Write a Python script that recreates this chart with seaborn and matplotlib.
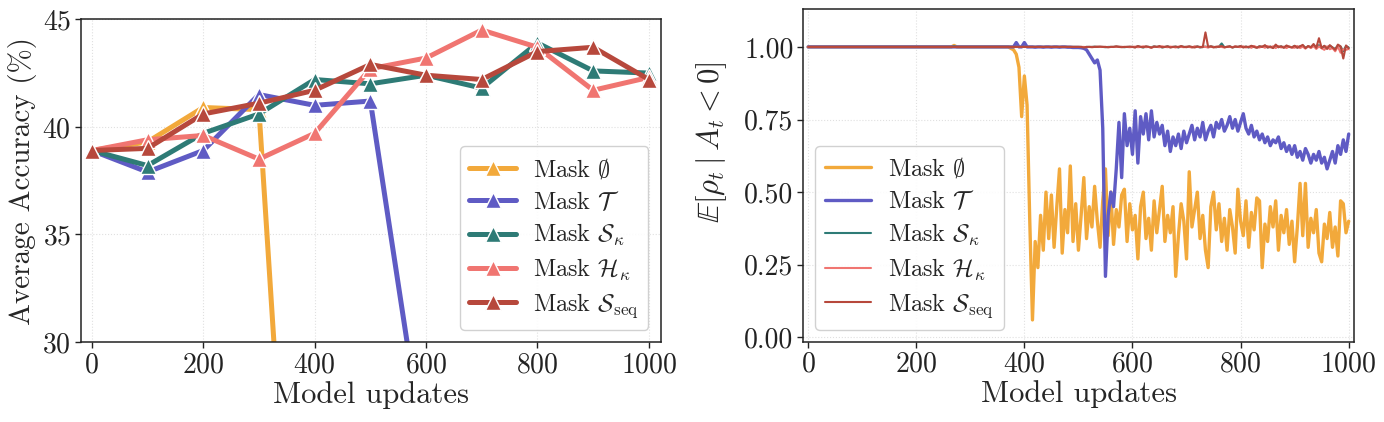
import numpy as np
import pandas as pd
import matplotlib
matplotlib.use("Agg")
import matplotlib.pyplot as plt
import seaborn as sns

# ---------------- data ----------------
series_names = [r"Mask $\emptyset$", r"Mask $\mathcal{T}$", r"Mask $\mathcal{S}_\kappa$",
                r"Mask $\mathcal{H}_\kappa$", r"Mask $\mathcal{S}_{\mathrm{seq}}$"]
colors = ["#F2A93B", "#5F5BC4", "#2E7B76", "#F07571", "#B7483C"]

# Left: average accuracy every 100 model updates
acc_updates = [0, 100, 200, 300, 400, 500, 600, 700, 800, 900, 1000]
acc_empty = [38.9, 39.3, 40.9, 40.8, 0.6, 0.5, 0.5, 0.5, 0.5, 0.5, 0.5]
acc_T = [38.9, 37.9, 38.9, 41.5, 41.0, 41.2, 24.2, 20.0, 18.0, 17.0, 16.0]
acc_Sk = [38.9, 38.2, 39.7, 40.6, 42.2, 42.0, 42.4, 41.8, 43.9, 42.6, 42.5]
acc_Hk = [38.9, 39.4, 39.6, 38.5, 39.7, 42.7, 43.2, 44.5, 43.7, 41.7, 42.3]
acc_Sseq = [38.9, 39.0, 40.6, 41.1, 41.7, 42.9, 42.4, 42.2, 43.5, 43.7, 42.2]

# Right: E[rho_t | A_t < 0], sampled every 5 model updates (0..1000)
ratio_updates = list(range(0, 1001, 5))
ratio_empty = [
    1.0, 1.0, 1.0, 1.0, 1.0, 1.0, 1.0, 1.0, 1.0, 1.0, 1.0, 1.0, 1.0, 1.0, 1.0, 1.0, 1.0, 1.0, 1.0, 1.0,
    1.0, 1.0, 1.0, 1.0, 1.0, 1.0, 1.0, 1.0, 1.0, 1.0, 1.0, 1.0, 1.0, 1.0, 1.0, 1.0, 1.0, 1.0, 1.0, 1.0,
    1.0, 1.0, 1.0, 1.0, 1.0, 1.0, 1.0, 1.0, 1.0, 1.0, 1.0, 1.0, 1.0, 1.0, 1.005, 1.0, 1.0, 1.0, 1.0, 1.0,
    1.0, 1.0, 1.0, 1.0, 1.0, 1.0, 1.0, 1.0, 1.0, 1.0, 1.0, 1.0, 1.0, 1.0, 1.0, 0.995, 0.99, 0.975, 0.93, 0.76,
    0.90, 0.80, 0.40, 0.06, 0.33, 0.24, 0.42, 0.30, 0.50, 0.34, 0.49, 0.31, 0.45, 0.58, 0.29, 0.44, 0.36, 0.59, 0.33, 0.46,
    0.30, 0.42, 0.55, 0.34, 0.45, 0.38, 0.52, 0.40, 0.31, 0.47, 0.58, 0.35, 0.50, 0.32, 0.44, 0.38, 0.49, 0.51, 0.33, 0.46,
    0.37, 0.42, 0.27, 0.45, 0.50, 0.34, 0.41, 0.30, 0.47, 0.36, 0.44, 0.52, 0.33, 0.42, 0.36, 0.45, 0.21, 0.35, 0.46, 0.40,
    0.27, 0.57, 0.38, 0.44, 0.50, 0.34, 0.42, 0.30, 0.24, 0.45, 0.50, 0.37, 0.46, 0.33, 0.41, 0.30, 0.44, 0.38, 0.29, 0.51,
    0.40, 0.35, 0.47, 0.31, 0.43, 0.37, 0.48, 0.47, 0.24, 0.39, 0.33, 0.45, 0.38, 0.47, 0.30, 0.42, 0.36, 0.44, 0.32, 0.40,
    0.26, 0.38, 0.53, 0.35, 0.53, 0.31, 0.41, 0.36, 0.44, 0.29, 0.26, 0.39, 0.34, 0.43, 0.31, 0.38, 0.28, 0.47, 0.46, 0.36,
    0.40,
]
ratio_T = [
    1.0, 1.0, 1.0, 1.0, 1.0, 1.0, 1.0, 1.0, 1.0, 1.0, 1.0, 1.0, 1.0, 1.0, 1.0, 1.0, 1.0, 1.0, 1.0, 1.0,
    1.0, 1.0, 1.0, 1.0, 1.0, 1.0, 1.0, 1.0, 1.0, 1.0, 1.0, 1.0, 1.0, 1.0, 1.0, 1.0, 1.0, 1.0, 1.0, 1.0,
    1.0, 1.0, 1.0, 1.0, 1.0, 1.0, 1.0, 1.0, 1.0, 1.0, 1.0, 1.0, 1.0, 1.0, 1.0, 1.0, 1.0, 1.0, 1.0, 1.0,
    1.0, 1.0, 1.0, 1.0, 1.0, 1.0, 1.0, 1.0, 1.0, 1.0, 1.0, 1.0, 1.0, 1.0, 1.0, 1.0, 1.0, 1.015, 1.0, 1.0,
    1.015, 1.0, 1.0, 1.0, 0.999, 1.0, 1.0, 0.999, 1.0, 1.0, 0.999, 1.0, 1.0, 0.999, 1.0, 1.0, 0.999, 0.999, 0.998, 0.998,
    0.998, 0.997, 0.995, 0.99, 0.975, 0.96, 0.945, 0.955, 0.92, 0.72, 0.21, 0.42, 0.50, 0.45, 0.58, 0.74, 0.55, 0.77, 0.66, 0.72,
    0.63, 0.78, 0.60, 0.76, 0.70, 0.77, 0.68, 0.78, 0.69, 0.74, 0.70, 0.73, 0.66, 0.71, 0.64, 0.69, 0.66, 0.70, 0.65, 0.71,
    0.67, 0.70, 0.73, 0.68, 0.72, 0.69, 0.74, 0.68, 0.71, 0.73, 0.69, 0.74, 0.72, 0.75, 0.71, 0.73, 0.76, 0.72, 0.75, 0.71,
    0.74, 0.77, 0.72, 0.70, 0.73, 0.69, 0.71, 0.68, 0.70, 0.67, 0.69, 0.66, 0.68, 0.67, 0.69, 0.65, 0.67, 0.64, 0.66, 0.63,
    0.66, 0.62, 0.64, 0.61, 0.65, 0.63, 0.60, 0.63, 0.61, 0.64, 0.60, 0.62, 0.58, 0.61, 0.64, 0.60, 0.66, 0.63, 0.68, 0.64,
    0.70,
]
ratio_Sk = [
    1.0, 1.0, 1.0, 1.0, 1.0, 1.0, 1.0, 1.0, 1.0, 1.0, 1.0, 1.0, 1.0, 1.0, 1.0, 1.0, 1.0, 1.0, 1.0, 1.0,
    1.0, 1.0, 1.0, 1.0, 1.0, 1.0, 1.0, 1.0, 1.0, 1.0, 1.0, 1.0, 1.0, 1.0, 1.0, 1.0, 1.0, 1.0, 1.0, 1.0,
    1.0, 1.0, 1.0, 1.0, 1.0, 1.0, 1.0, 1.0, 1.0, 1.0, 1.0, 1.0, 1.0, 1.0, 1.002, 1.0, 1.0, 1.0, 1.0, 1.0,
    1.0, 1.0, 1.0, 1.0, 1.0, 1.0, 1.0, 1.0, 1.0, 1.0, 1.0, 1.0, 1.0, 1.0, 1.0, 1.0, 1.0, 1.0, 1.0, 1.0,
    1.0, 1.0, 1.0, 1.0, 1.0, 1.0, 1.0, 1.0, 1.0, 1.0, 1.0, 1.0, 1.0, 1.0, 1.0, 1.0, 1.0, 1.0, 1.0, 1.0,
    1.0, 1.0, 0.999, 1.0, 1.0, 1.0, 1.001, 1.0, 1.0, 1.0, 0.999, 1.0, 1.0, 1.0, 1.001, 1.0, 1.0, 0.999, 1.0, 1.0,
    1.0, 0.999, 1.002, 1.0, 0.998, 1.001, 1.0, 0.999, 1.002, 1.0, 1.001, 0.998, 1.0, 1.002, 0.999, 1.0, 1.001, 0.998, 1.002, 1.0,
    1.0, 1.001, 0.999, 1.0, 1.002, 0.998, 1.0, 1.001, 0.999, 1.002, 1.0, 0.999, 1.001, 1.012, 0.999, 1.0, 1.002, 0.998, 1.001, 1.0,
    1.002, 0.999, 1.001, 0.998, 1.003, 1.0, 0.998, 1.002, 1.0, 1.004, 0.998, 1.001, 0.997, 1.004, 0.999, 1.002, 0.998, 1.003, 1.0, 0.999,
    1.003, 0.998, 1.002, 1.004, 0.997, 1.002, 0.999, 1.005, 0.998, 1.006, 0.997, 1.003, 0.995, 1.004, 0.998, 0.993, 1.004, 1.001, 0.985, 1.003,
    0.998,
]
ratio_Hk = [
    1.0, 1.0, 1.0, 1.0, 1.0, 1.0, 1.0, 1.0, 1.0, 1.0, 1.0, 1.0, 1.0, 1.0, 1.0, 1.0, 1.0, 1.0, 1.0, 1.0,
    1.0, 1.0, 1.0, 1.0, 1.0, 1.0, 1.0, 1.0, 1.0, 1.0, 1.0, 1.0, 1.0, 1.0, 1.0, 1.0, 1.0, 1.0, 1.0, 1.0,
    1.0, 1.0, 1.0, 1.0, 1.0, 1.0, 1.0, 1.0, 1.0, 1.0, 1.0, 1.0, 1.0, 1.0, 1.0, 1.0, 1.0, 1.0, 1.0, 1.0,
    1.0, 1.0, 1.0, 1.0, 1.0, 1.0, 1.0, 1.0, 1.0, 1.0, 1.0, 1.0, 1.0, 1.0, 1.0, 1.0, 1.0, 1.0, 1.0, 1.0,
    1.0, 1.0, 1.0, 1.0, 1.0, 1.0, 1.0, 1.0, 1.0, 1.0, 1.0, 1.0, 1.0, 1.0, 1.0, 1.0, 1.0, 1.0, 1.0, 1.0,
    1.0, 1.0, 1.0, 0.999, 1.0, 1.0, 1.0, 1.001, 1.0, 1.0, 1.0, 0.999, 1.0, 1.0, 1.0, 1.001, 1.0, 1.0, 1.0, 0.999,
    1.0, 1.001, 0.999, 1.0, 1.002, 0.999, 1.0, 0.998, 1.001, 1.0, 0.999, 1.002, 1.0, 0.999, 1.001, 1.0, 0.998, 1.001, 1.0, 0.999,
    1.001, 1.0, 0.998, 1.002, 1.0, 0.999, 1.001, 1.0, 0.998, 1.001, 1.0, 0.999, 1.002, 1.0, 0.998, 1.001, 1.0, 0.999, 1.002, 1.0,
    0.999, 1.002, 0.998, 1.001, 0.997, 1.003, 0.999, 0.998, 1.002, 0.997, 1.003, 0.998, 1.002, 0.996, 1.003, 0.998, 1.001, 0.996, 1.002, 0.998,
    0.997, 1.003, 0.996, 1.001, 0.994, 1.002, 0.996, 1.003, 0.993, 1.002, 0.995, 0.99, 1.002, 0.992, 0.996, 0.985, 1.001, 0.98, 0.992, 0.99,
    0.993,
]
ratio_Sseq = [
    1.0, 1.0, 1.0, 1.0, 1.0, 1.0, 1.0, 1.0, 1.0, 1.0, 1.0, 1.0, 1.0, 1.0, 1.0, 1.0, 1.0, 1.0, 1.0, 1.0,
    1.0, 1.0, 1.0, 1.0, 1.0, 1.0, 1.0, 1.0, 1.0, 1.0, 1.0, 1.0, 1.0, 1.0, 1.0, 1.0, 1.0, 1.0, 1.0, 1.0,
    1.0, 1.0, 1.0, 1.0, 1.0, 1.0, 1.0, 1.0, 1.0, 1.0, 1.0, 1.0, 1.0, 1.0, 1.0, 1.0, 1.0, 1.0, 1.0, 1.0,
    1.0, 1.0, 1.0, 1.0, 1.0, 1.0, 1.0, 1.0, 1.0, 1.0, 1.0, 1.0, 1.0, 1.0, 1.0, 1.0, 1.0, 1.0, 1.0, 1.0,
    1.0, 1.0, 1.0, 1.0, 1.0, 1.0, 1.0, 1.0, 1.0, 1.0, 1.0, 1.0, 1.0, 1.0, 1.0, 1.0, 1.0, 1.0, 1.0, 1.0,
    1.0, 1.0, 0.998, 1.0, 1.0, 0.999, 1.0, 1.0, 1.001, 1.0, 1.0, 0.999, 1.0, 1.0, 1.002, 1.0, 0.999, 1.0, 1.0, 1.001,
    1.0, 0.998, 1.003, 1.0, 0.999, 1.002, 1.0, 0.997, 1.001, 1.0, 1.003, 0.999, 1.0, 1.002, 0.998, 1.0, 1.001, 0.999, 1.003, 1.0,
    0.999, 1.002, 1.0, 0.998, 1.001, 1.0, 0.999, 1.05, 1.0, 1.002, 0.998, 1.001, 1.0, 1.003, 0.999, 1.0, 1.002, 0.998, 1.001, 1.0,
    1.003, 0.998, 1.001, 0.999, 1.004, 1.0, 0.997, 1.002, 1.0, 1.006, 0.998, 1.001, 0.996, 1.008, 0.999, 1.002, 0.997, 1.005, 1.0, 0.998,
    1.004, 0.997, 1.002, 1.007, 0.996, 1.003, 0.999, 1.01, 0.997, 1.03, 0.996, 1.004, 0.993, 1.006, 0.998, 0.99, 1.008, 1.002, 0.96, 1.005,
    0.995,
]

acc_series = [acc_empty, acc_T, acc_Sk, acc_Hk, acc_Sseq]
ratio_series = [ratio_empty, ratio_T, ratio_Sk, ratio_Hk, ratio_Sseq]
for s in ratio_series:
    assert len(s) == len(ratio_updates), len(s)

acc_df = pd.DataFrame({
    "updates": np.tile(acc_updates, len(series_names)),
    "value": np.concatenate(acc_series),
    "mask": np.repeat(series_names, len(acc_updates)),
})
ratio_df = pd.DataFrame({
    "updates": np.tile(ratio_updates, len(series_names)),
    "value": np.concatenate(ratio_series),
    "mask": np.repeat(series_names, len(ratio_updates)),
})

# ---------------- style ----------------
sns.set_theme(style="ticks")
plt.rcParams.update({
    "font.family": "serif",
    "font.serif": ["cmr10"],
    "mathtext.fontset": "cm",
    "axes.formatter.use_mathtext": True,
    "axes.unicode_minus": False,
    "axes.edgecolor": "#222222",
    "axes.linewidth": 1.1,
    "xtick.color": "#222222",
    "ytick.color": "#222222",
    "xtick.major.size": 4,
    "ytick.major.size": 4,
})

fig = plt.figure(figsize=(13.84, 4.22), dpi=100)
ax1 = fig.add_axes([0.0583, 0.1896, 0.419, 0.7647])
ax2 = fig.add_axes([0.5804, 0.1903, 0.398, 0.788])

for name, col in zip(series_names, colors):
    sub = acc_df[acc_df["mask"] == name]
    sns.lineplot(data=sub, x="updates", y="value", ax=ax1, color=col, label=name,
                 linewidth=3.6, marker="^", markersize=11, markeredgecolor="white",
                 markeredgewidth=1.0)

line_w = [2.4, 2.4, 1.5, 1.5, 1.5]
for name, col, lw in zip(series_names, colors, line_w):
    sub = ratio_df[ratio_df["mask"] == name]
    sns.lineplot(data=sub, x="updates", y="value", ax=ax2, color=col, label=name,
                 linewidth=lw)

ax1.set_xlim(-20, 1021)
ax1.set_ylim(30, 45)
ax1.set_xticks([0, 200, 400, 600, 800, 1000])
ax1.set_yticks([30, 35, 40, 45])
ax1.set_xlabel("Model updates", fontsize=22, labelpad=2)
ax1.set_ylabel("Average Accuracy (%)", fontsize=21, labelpad=4)

ax2.set_xlim(-9, 1010)
ax2.set_ylim(-0.015, 1.13)
ax2.set_xticks([0, 200, 400, 600, 800, 1000])
ax2.set_yticks([0.0, 0.25, 0.5, 0.75, 1.0])
ax2.set_yticklabels(["0.00", "0.25", "0.50", "0.75", "1.00"])
ax2.set_xlabel("Model updates", fontsize=22, labelpad=2)
ax2.set_ylabel(r"$\mathbb{E}[\rho_t \mid A_t < 0]$", fontsize=22, labelpad=4)
ax2.yaxis.set_label_coords(-0.135, 0.6)

for ax in (ax1, ax2):
    ax.tick_params(labelsize=20, width=1.0, length=4, pad=3)
    ax.grid(True, linestyle=":", color="#e0e0e0", linewidth=0.8)
    for sp in ax.spines.values():
        sp.set_visible(True)

leg_kw = dict(fontsize=17.5, handlelength=1.9, handletextpad=0.7, labelspacing=0.35,
              borderpad=0.4, framealpha=0.9, edgecolor="#cccccc", fancybox=True)
ax1.legend(loc="lower right", **leg_kw)
ax2.legend(loc="lower left", **leg_kw)

fig.savefig("out.png", dpi=100)
